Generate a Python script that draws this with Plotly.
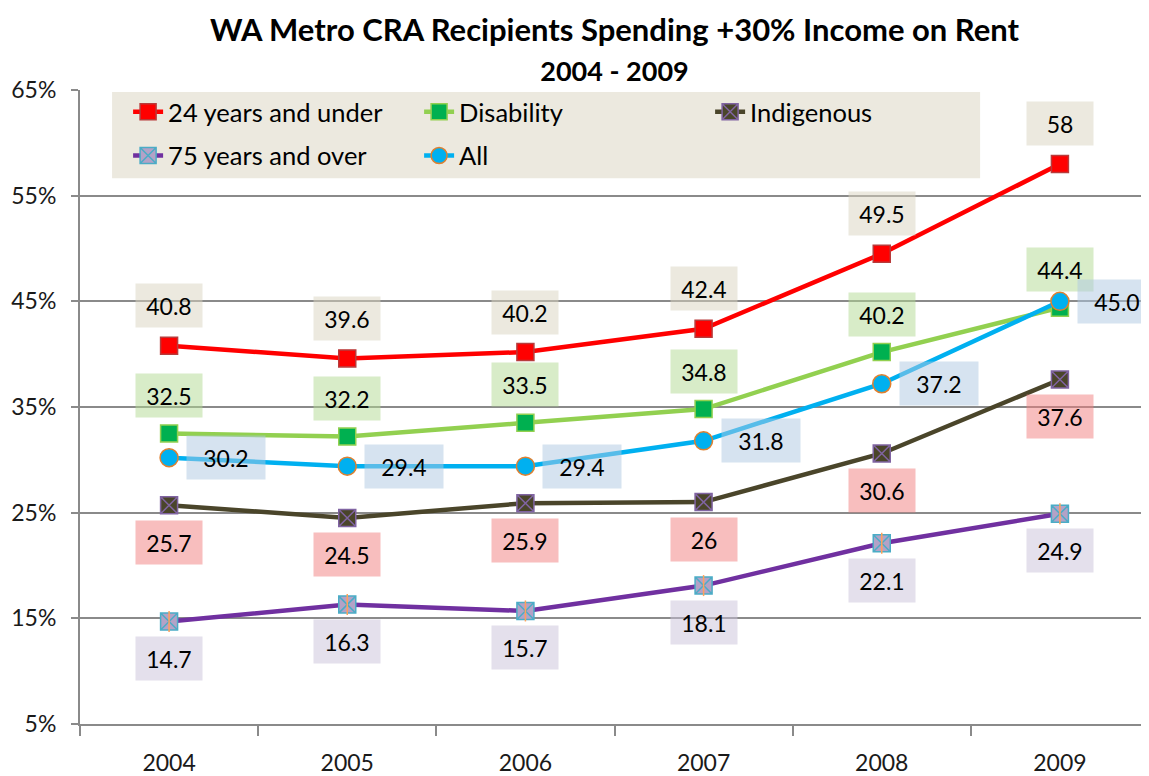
import plotly.graph_objects as go

"""
WA Metro CRA recipients spending more than 30% of income on rent
"""

years = ['2004', '2005', '2006', '2007', '2008', '2009']

under_24 = [40.8, 39.6, 40.2, 42.4, 49.5, 58]
disability = [32.5, 32.2, 33.5, 34.8, 40.2, 44.4]
indigenous = [25.7, 24.5, 25.9, 26, 30.6, 37.6]
over_75 = [14.7, 16.3, 15.7, 18.1, 22.1, 24.9]
all_recipients = [30.2, 29.4, 29.4, 31.8, 37.2, 45.0]

y_ticks = [5, 15, 25, 35, 45, 55, 65]

FONT = 'Lato'
GRID = '#8a8a8a'


def add_labels(fig, values, fmt, bgcolor, xshift=0, yshift=0, width=64):
    # category axis: annotations are placed by category index
    for i, v in enumerate(values):
        fig.add_annotation(
            x=i, y=v, xref='x', yref='y',
            text=format(v, fmt),
            showarrow=False,
            xshift=xshift, yshift=yshift,
            width=width, height=41,
            bgcolor=bgcolor,
            font=dict(family=FONT, size=23, color='black'),
        )


def create_chart():
    fig = go.Figure()

    fig.add_trace(go.Scatter(
        x=years, y=under_24, mode='lines+markers', name='24 years and under',
        legend='legend',
        line=dict(color='#ff0000', width=4.5),
        marker=dict(symbol='square', size=17, color='#ff0000',
                    line=dict(color='#b83b3b', width=1.5)),
    ))
    fig.add_trace(go.Scatter(
        x=years, y=disability, mode='lines+markers', name='Disability',
        legend='legend',
        line=dict(color='#92d050', width=4.5),
        marker=dict(symbol='square', size=17, color='#00b050',
                    line=dict(color='#92d050', width=1.5)),
    ))
    fig.add_trace(go.Scatter(
        x=years, y=indigenous, mode='lines+markers', name='Indigenous',
        legend='legend',
        line=dict(color='#4a452a', width=4.5),
        marker=dict(symbol='square-x', size=17, color='#4a452a',
                    line=dict(color='#8064a2', width=1.5)),
    ))
    fig.add_trace(go.Scatter(
        x=years, y=over_75, mode='lines+markers', name='75 years and over',
        legend='legend2',
        line=dict(color='#7030a0', width=4.5),
        marker=dict(symbol='square-x', size=17, color='#b3a2c7',
                    line=dict(color='#4bacc6', width=1.5)),
    ))
    # vertical stroke of the asterisk marker
    fig.add_trace(go.Scatter(
        x=years, y=over_75, mode='markers', showlegend=False, hoverinfo='skip',
        marker=dict(symbol='line-ns-open', size=15,
                    line=dict(color='#4bacc6', width=1.5)),
    ))
    fig.add_trace(go.Scatter(
        x=years, y=all_recipients, mode='lines+markers', name='All',
        legend='legend2',
        line=dict(color='#00b0f0', width=4.5),
        marker=dict(symbol='circle', size=18, color='#00b0f0',
                    line=dict(color='#e0802f', width=1.5)),
    ))

    add_labels(fig, under_24, 'g', 'rgba(217,211,191,0.5)', yshift=40)
    add_labels(fig, disability, 'g', 'rgba(177,217,145,0.5)', yshift=38)
    add_labels(fig, all_recipients, '.1f', 'rgba(173,199,225,0.5)', xshift=57, width=76)
    add_labels(fig, indigenous, 'g', 'rgba(241,125,125,0.5)', yshift=-37)
    add_labels(fig, over_75, 'g', 'rgba(201,193,217,0.5)', yshift=-37)

    # legend background panel
    fig.add_shape(
        type='rect', xref='paper', yref='paper',
        x0=0.030, x1=0.842, y0=0.861, y1=0.997,
        fillcolor='#ece9df', line=dict(width=0), layer='below',
    )

    legend_style = dict(
        orientation='h', xanchor='left', yanchor='middle',
        bgcolor='rgba(0,0,0,0)', entrywidth=246,
        font=dict(family=FONT, size=25.5, color='black'),
    )

    fig.update_layout(
        width=1141, height=768,
        title=dict(
            text=('<b>WA Metro CRA Recipients Spending +30% Income on Rent<br>'
                  '<span style="font-size:27px">2004 - 2009</span></b>'),
            x=0.5, xref='paper', y=0.957, yanchor='middle',
            font=dict(family=FONT, size=31, color='black'),
        ),
        font=dict(family=FONT, color='#1a1a1a'),
        plot_bgcolor='white',
        paper_bgcolor='white',
        margin=dict(l=72, r=0, t=82, b=52),
        legend=dict(legend_style, x=0.045, y=0.965),
        legend2=dict(legend_style, x=0.045, y=0.896),
        showlegend=True,
    )

    fig.update_xaxes(
        type='category', range=[-0.5, 5.5],
        showline=True, linecolor=GRID, linewidth=2,
        ticks='outside', tickson='boundaries', ticklen=10, tickcolor=GRID, tickwidth=1.5,
        ticklabelstandoff=17,
        showgrid=False,
        tickfont=dict(family=FONT, size=23, color='#1a1a1a'),
    )
    fig.update_yaxes(
        range=[5, 65], tickvals=y_ticks, ticktext=[f'{t}%' for t in y_ticks],
        showline=True, linecolor=GRID, linewidth=2,
        ticks='outside', ticklen=7, tickcolor=GRID, tickwidth=1.5,
        ticklabelstandoff=10,
        showgrid=True, gridcolor=GRID, gridwidth=2,
        zeroline=False,
        tickfont=dict(family=FONT, size=23, color='#1a1a1a'),
    )

    fig.write_html('out.html')


if __name__ == '__main__':
    create_chart()
